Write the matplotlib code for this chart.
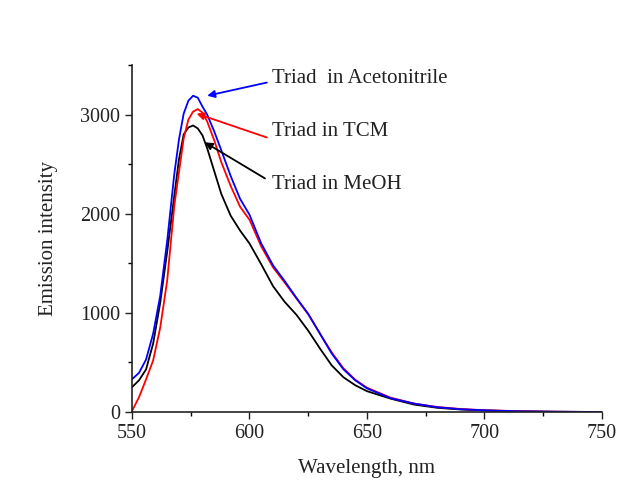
import matplotlib
matplotlib.use("Agg")
import matplotlib.pyplot as plt
from matplotlib.ticker import MultipleLocator

plt.rcParams['font.family'] = ['Liberation Serif', 'DejaVu Serif']

wavelength = [550, 553, 556, 559, 562, 565, 568, 570, 572, 574, 576, 578, 580, 582,
              585, 588, 592, 596, 600, 605, 610, 615, 620, 625, 630, 635, 640, 645,
              650, 660, 670, 680, 690, 700, 715, 730, 750]

acetonitrile = [330, 395, 530, 790, 1170, 1730, 2400, 2750, 3010, 3140, 3190, 3170, 3080, 3000,
                2830, 2640, 2380, 2150, 1990, 1700, 1480, 1320, 1150, 990, 790, 590, 430, 320,
                238, 140, 85, 48, 28, 17, 7, 3, 0]

tcm = [10, 150, 330, 520, 850, 1330, 2080, 2420, 2760, 2950, 3030, 3055, 3020, 2930,
       2740, 2520, 2280, 2070, 1940, 1670, 1460, 1305, 1145, 985, 790, 600, 440, 325,
       245, 145, 85, 50, 30, 18, 8, 3, 0]

meoh = [250, 320, 430, 690, 1100, 1620, 2180, 2550, 2800, 2870, 2890, 2860, 2790, 2660,
        2430, 2200, 1980, 1830, 1700, 1490, 1270, 1110, 980, 820, 640, 470, 350, 270,
        210, 135, 75, 42, 25, 15, 6, 2, 0]

labels = ["Triad  in Acetonitrile", "Triad in TCM", "Triad in MeOH"]
colors = ["#0000ff", "#ff0000", "#000000"]

fig = plt.figure(figsize=(6.22, 4.83), dpi=100)
ax = fig.add_axes([0.2122, 0.147, 0.7556, 0.7184])

ax.plot(wavelength, meoh, color=colors[2], lw=1.3)
ax.plot(wavelength, tcm, color=colors[1], lw=1.3)
ax.plot(wavelength, acetonitrile, color=colors[0], lw=1.3)

ax.set_xlim(550, 750)
ax.set_ylim(0, 3500)
ax.xaxis.set_major_locator(MultipleLocator(50))
ax.xaxis.set_minor_locator(MultipleLocator(25))
ax.yaxis.set_major_locator(MultipleLocator(1000))
ax.yaxis.set_minor_locator(MultipleLocator(500))
ax.tick_params(which='major', direction='out', length=5, width=1, labelsize=14.5, colors='#222222')
ax.tick_params(which='minor', direction='out', length=3, width=1)
for s in ['top', 'right']:
    ax.spines[s].set_visible(False)
for s in ['left', 'bottom']:
    ax.spines[s].set_linewidth(1.2)
    ax.spines[s].set_color('#222222')

ax.set_xlabel("Wavelength, nm", fontsize=15, color='#222222', labelpad=12)
ax.set_ylabel("Emission intensity", fontsize=15, color='#222222', labelpad=16)

ann = [
    (labels[0], (582.0, 3190), (607.4, 3323), (609.6, 3360)),
    (labels[1], (577.5, 3010), (607.4, 2769), (609.6, 2830)),
    (labels[2], (581.0, 2720), (606.6, 2356), (609.6, 2290)),
]
for (txt, head, tail, tpos), c in zip(ann, colors):
    ax.annotate("", xy=head, xytext=tail,
                arrowprops=dict(arrowstyle="-|>", color=c, lw=1.3,
                                mutation_scale=11, shrinkA=0, shrinkB=0))
    ax.text(tpos[0], tpos[1], txt, fontsize=15, color='#222222', va='center', ha='left')

fig.savefig("out.png", dpi=100)
